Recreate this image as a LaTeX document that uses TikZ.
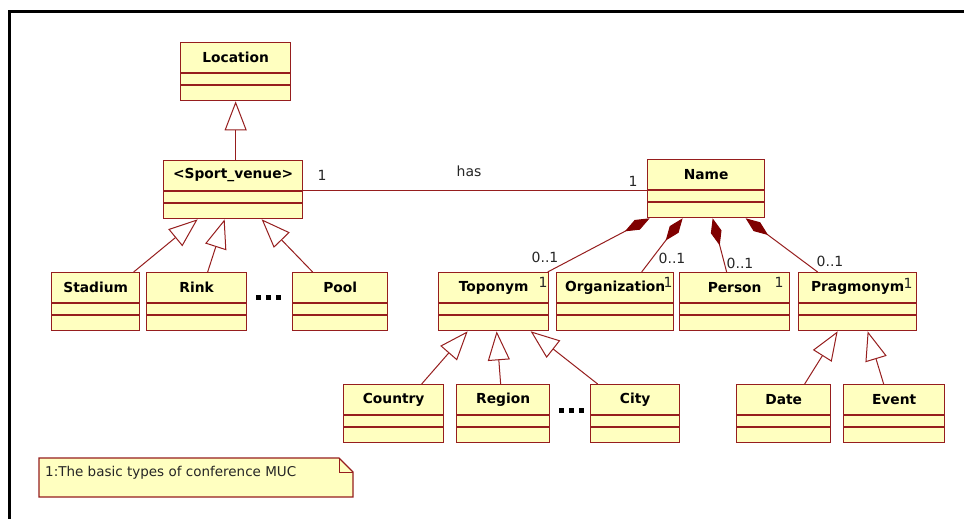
\documentclass[tikz,border=0pt]{standalone}
\usepackage{fontspec}
\setmainfont{DejaVu Sans}
\usetikzlibrary{arrows.meta,calc}
\definecolor{umlline}{RGB}{150,30,30}
\definecolor{umlfill}{RGB}{255,255,192}
\definecolor{umldia}{RGB}{128,0,0}
\tikzset{
  cls/.style={draw=umlline, fill=umlfill, line width=1.3pt, minimum height=58pt, inner sep=0pt, anchor=north west},
  sep/.style={draw=umlline, line width=1.3pt},
  clstext/.style={font=\fontsize{13.8}{16}\selectfont\bfseries, inner sep=0pt},
  lbl/.style={font=\fontsize{14}{16}\selectfont, inner sep=0pt, text=black!85},
  inh/.style={draw=umlline, line width=1pt, -{Triangle[open, fill=white, length=29pt, width=22pt]}},
  comp/.style={draw=umlline, line width=1pt, {Diamond[length=28pt, width=11pt, fill=umldia, color=umldia]}-},
}
\newcommand\umlclass[5]{%
  \node[cls, minimum width=#4pt] (#1) at (#2,#3) {};
  \draw[sep] ([yshift=-31pt]#1.north west) -- ([yshift=-31pt]#1.north east);
  \draw[sep] ([yshift=-43pt]#1.north west) -- ([yshift=-43pt]#1.north east);
  \node[clstext] (#1-t) at ([yshift=-15.5pt]#1.north) {#5};
}
\begin{document}
\begin{tikzpicture}[x=1pt, y=-1pt]
\useasboundingbox (0,0) rectangle (964,519);
\fill[white] (0,0) rectangle (964,519);
% frame
\draw[line width=3pt] (9,519) -- (9,12) -- (964,12);

% classes
\umlclass{loc}{180}{42}{110}{Location}
\umlclass{sv}{163}{160}{139}{<Sport\_venue>}
\umlclass{sta}{51}{272}{88}{Stadium}
\umlclass{rink}{146}{272}{100}{Rink}
\umlclass{pool}{292}{272}{95}{Pool}
\umlclass{nm}{647}{159}{117}{Name}
\umlclass{top}{438}{272}{110}{Toponym}
\umlclass{org}{556}{272}{117}{Organization}
\umlclass{per}{679}{272}{110}{Person}
\umlclass{prag}{798}{272}{118}{Pragmonym}
\umlclass{cty}{343}{384}{100}{Country}
\umlclass{reg}{456}{384}{93}{Region}
\umlclass{city}{590}{384}{89}{City}
\umlclass{date}{736}{384}{94}{Date}
\umlclass{evt}{843}{384}{101}{Event}

% dots
\foreach \dx in {0,10,20} {
  \fill (256+\dx,295) rectangle ++(5,5);
  \fill (559+\dx,408) rectangle ++(5,5);
}

% generalizations
\draw[inh] (sv.north -| loc.south) -- (loc.south);
\draw[inh] ([xshift=38pt]sta.north) -- ([xshift=-35.5pt]sv.south);
\draw[inh] ([xshift=11pt]rink.north) -- ([xshift=-8.5pt]sv.south);
\draw[inh] ([xshift=-27.5pt]pool.north) -- ([xshift=28.5pt]sv.south);
\draw[inh] ([xshift=28pt]cty.north) -- ([xshift=-26pt]top.south);
\draw[inh] ([xshift=-2.5pt]reg.north) -- ([xshift=3pt]top.south);
\draw[inh] ([xshift=-37.5pt]city.north) -- ([xshift=37pt]top.south);
\draw[inh] ([xshift=21pt]date.north) -- ([xshift=-20pt]prag.south);
\draw[inh] ([xshift=-10.5pt]evt.north) -- ([xshift=10pt]prag.south);

% association
\coordinate (asa) at ($(sv.north east)+(0,30)$);
\draw[draw=umlline, line width=1pt] (asa) -- (asa -| nm.west);
\node[lbl] (m-sv) at (322,175) {1};
\node[lbl] (has) at (469,171) {has};
\node[lbl] (m-nm) at (633,181) {1};

% compositions
\draw[comp] ([xshift=-56.5pt]nm.south) -- ([xshift=54pt]top.north);
\draw[comp] ([xshift=-23.5pt]nm.south) -- ([xshift=26.5pt]org.north);
\draw[comp] ([xshift=6.5pt]nm.south) -- ([xshift=-8pt]per.north);
\draw[comp] ([xshift=39.5pt]nm.south) -- ([xshift=-40pt]prag.north);

\node[lbl] (z1) at (545,257) {0..1};
\node[lbl] (z2) at (672,258) {0..1};
\node[lbl] (z3) at (740,263) {0..1};
\node[lbl] (z4) at (830,261) {0..1};
\node[lbl] (o1) at (543,282) {1};
\node[lbl] (o2) at (668,282) {1};
\node[lbl] (o3) at (779,282) {1};
\node[lbl] (o4) at (908,283) {1};

% note
\draw[draw=umlline, fill=umlfill, line width=1.3pt] (39,458) -- (339,458) -- (353,472) -- (353,497) -- (39,497) -- cycle;
\draw[draw=umlline, line width=1pt] (339,458) -- (339,472) -- (353,472);
\node[lbl, anchor=west, font=\fontsize{13.5}{16}\selectfont] (note) at (45,473) {1:The basic types of conference MUC};
\end{tikzpicture}
\end{document}
